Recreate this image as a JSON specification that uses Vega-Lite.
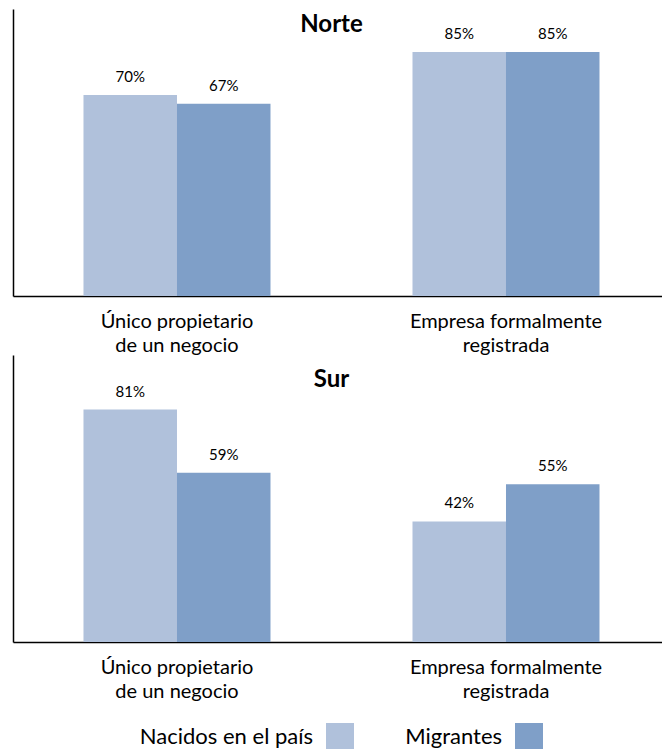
{
  "$schema": "https://vega.github.io/schema/vega-lite/v6.json",
  "padding": {"left": 13, "top": 9, "right": 0, "bottom": 0},
  "spacing": 0,
  "config": {
    "view": {"stroke": null},
    "font": "Lato",
    "axis": {"domainColor": "#000000", "domainWidth": 1.5, "ticks": false, "grid": false, "title": null, "labelColor": "#000000", "labelFont": "Lato", "labelLimit": 400}
  },
  "datasets": {
    "bars": [
      {"region": "Norte", "tipo": "Único propietario de un negocio", "grupo": "Nacidos en el país", "valor": 0.70},
      {"region": "Norte", "tipo": "Único propietario de un negocio", "grupo": "Migrantes", "valor": 0.67},
      {"region": "Norte", "tipo": "Empresa formalmente registrada", "grupo": "Nacidos en el país", "valor": 0.85},
      {"region": "Norte", "tipo": "Empresa formalmente registrada", "grupo": "Migrantes", "valor": 0.85},
      {"region": "Sur", "tipo": "Único propietario de un negocio", "grupo": "Nacidos en el país", "valor": 0.81},
      {"region": "Sur", "tipo": "Único propietario de un negocio", "grupo": "Migrantes", "valor": 0.59},
      {"region": "Sur", "tipo": "Empresa formalmente registrada", "grupo": "Nacidos en el país", "valor": 0.42},
      {"region": "Sur", "tipo": "Empresa formalmente registrada", "grupo": "Migrantes", "valor": 0.55}
    ],
    "leyenda": [
      {"grupo": "Nacidos en el país"},
      {"grupo": "Migrantes"}
    ]
  },
  "vconcat": [
    {
      "width": 649,
      "height": 287,
      "layer": [
        {
          "data": {"name": "bars"},
          "transform": [{"filter": "datum.region == 'Norte'"}],
          "encoding": {
            "x": {"field": "tipo", "type": "nominal", "sort": ["Único propietario de un negocio", "Empresa formalmente registrada"],
                  "scale": {"paddingInner": 0.4316, "paddingOuter": 0.2021, "align": 0.53},
                  "axis": {"labelAngle": 0, "labelFontSize": 20, "labelLineHeight": 24, "labelPadding": 15, "labelBaseline": "top", "labelLimit": 400,
                           "labelExpr": "datum.label == 'Único propietario de un negocio' ? ['Único propietario', 'de un negocio'] : ['Empresa formalmente', 'registrada']"}},
            "xOffset": {"field": "grupo", "type": "nominal", "sort": ["Nacidos en el país", "Migrantes"], "scale": {"paddingInner": 0, "paddingOuter": 0}},
            "y": {"field": "valor", "type": "quantitative", "scale": {"domain": [0, 1]}, "axis": {"labels": false, "domain": true}}
          },
          "layer": [
            {"mark": {"type": "bar"},
             "encoding": {"color": {"field": "grupo", "type": "nominal", "scale": {"domain": ["Nacidos en el país", "Migrantes"], "range": ["#B0C1DB", "#7F9FC8"]}, "legend": null}}},
            {"mark": {"type": "text", "baseline": "bottom", "dy": -10, "fontSize": 15, "color": "#000000"},
             "encoding": {"text": {"field": "valor", "type": "quantitative", "format": ".0%"}}}
          ]
        },
        {
          "data": {"values": [{"titulo": "Norte"}]},
          "mark": {"type": "text", "fontSize": 24, "fontWeight": "bold", "baseline": "alphabetic", "dy": 23, "dx": -6, "color": "#000000"},
          "encoding": {
            "text": {"field": "titulo", "type": "nominal"},
            "y": {"datum": 1, "type": "quantitative"}
          }
        }
      ]
    },
    {
      "spacing": 22,
      "vconcat": [
        {
          "width": 649,
          "height": 287,
          "layer": [
            {
              "data": {"name": "bars"},
              "transform": [{"filter": "datum.region == 'Sur'"}],
              "encoding": {
                "x": {"field": "tipo", "type": "nominal", "sort": ["Único propietario de un negocio", "Empresa formalmente registrada"],
                      "scale": {"paddingInner": 0.4316, "paddingOuter": 0.2021, "align": 0.53},
                      "axis": {"labelAngle": 0, "labelFontSize": 20, "labelLineHeight": 24, "labelPadding": 15, "labelBaseline": "top", "labelLimit": 400,
                               "labelExpr": "datum.label == 'Único propietario de un negocio' ? ['Único propietario', 'de un negocio'] : ['Empresa formalmente', 'registrada']"}},
                "xOffset": {"field": "grupo", "type": "nominal", "sort": ["Nacidos en el país", "Migrantes"], "scale": {"paddingInner": 0, "paddingOuter": 0}},
                "y": {"field": "valor", "type": "quantitative", "scale": {"domain": [0, 1]}, "axis": {"labels": false, "domain": true}}
              },
              "layer": [
                {"mark": {"type": "bar"},
                 "encoding": {"color": {"field": "grupo", "type": "nominal", "scale": {"domain": ["Nacidos en el país", "Migrantes"], "range": ["#B0C1DB", "#7F9FC8"]}, "legend": null}}},
                {"mark": {"type": "text", "baseline": "bottom", "dy": -10, "fontSize": 15, "color": "#000000"},
                 "encoding": {"text": {"field": "valor", "type": "quantitative", "format": ".0%"}}}
              ]
            },
            {
              "data": {"values": [{"titulo": "Sur"}]},
              "mark": {"type": "text", "fontSize": 24, "fontWeight": "bold", "baseline": "alphabetic", "dy": 32, "dx": -6, "color": "#000000"},
              "encoding": {
                "text": {"field": "titulo", "type": "nominal"},
                "y": {"datum": 1, "type": "quantitative"}
              }
            }
          ]
        },
        {
          "width": 649,
          "height": 26,
          "data": {"name": "leyenda"},
          "encoding": {
            "x": {"field": "grupo", "type": "nominal", "sort": ["Nacidos en el país", "Migrantes"], "axis": null,
                  "scale": {"type": "band", "paddingInner": 0, "paddingOuter": 0.717, "align": 0.858}}
          },
          "layer": [
            {"mark": {"type": "square", "size": 784, "opacity": 1},
             "encoding": {"color": {"field": "grupo", "type": "nominal", "scale": {"domain": ["Nacidos en el país", "Migrantes"], "range": ["#B0C1DB", "#7F9FC8"]}, "legend": null}}},
            {"mark": {"type": "text", "align": "right", "baseline": "middle", "dx": -27, "fontSize": 22, "color": "#000000"},
             "encoding": {"text": {"field": "grupo", "type": "nominal"}}}
          ]
        }
      ]
    }
  ]
}
